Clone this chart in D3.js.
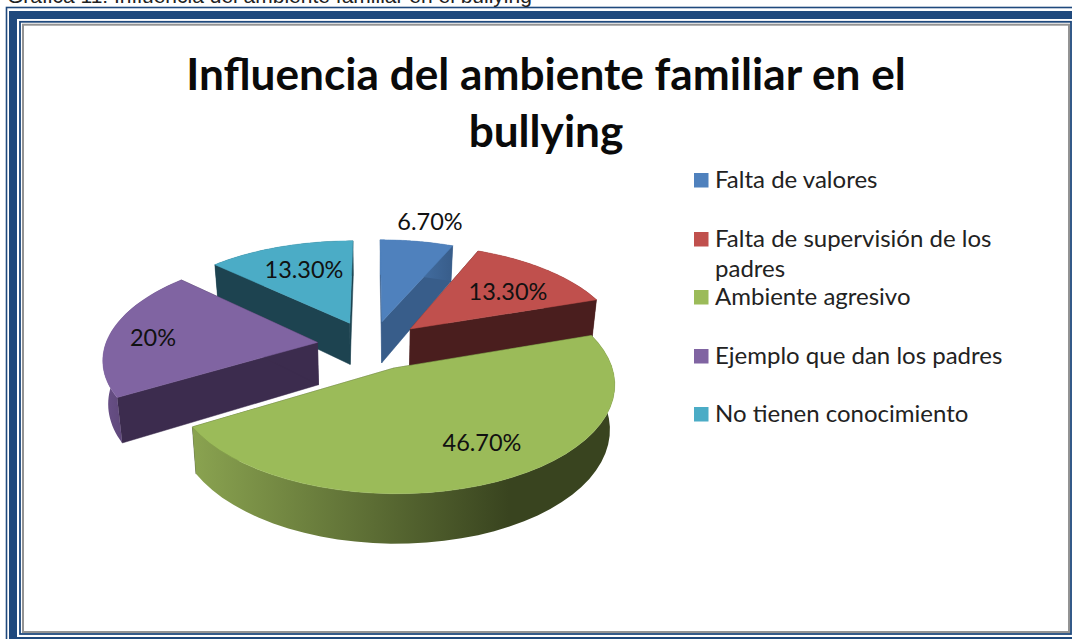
<!DOCTYPE html>
<html><head><meta charset="utf-8">
<script src="https://cdn.jsdelivr.net/npm/d3@7"></script>
<style>html,body{margin:0;padding:0;background:#fff;overflow:hidden}svg{display:block}</style>
</head><body><svg id="c" width="1072" height="639"></svg>
<script>
const categories=["Falta de valores","Falta de supervisión de los padres","Ambiente agresivo","Ejemplo que dan los padres","No tienen conocimiento"];
const values=[6.7,13.3,46.7,20,13.3];
const labels=["6.70%","13.30%","46.70%","20%","13.30%"];
const topColors=["#4f81bd","#c0504d","#9bbb59","#8064a2","#4bacc6"];
const wallColors=["#385d8a","#4a1e1e","#3c4a22","#3c2c4e","#1d4350"];
const sideLight=["#4f81bd","#4a1e1e","#8aa350","#6a5189","#1d4350"];
const sideDark=["#385d8a","#4a1e1e","#39441f","#3c2c4e","#1d4350"];
const labelAt=[[430,222],[508,292],[482,443],[153,338],[304,270]];
const legendY=[180,239,297,356,414];

const svg=d3.select("#c");
const font="Lato,'Open Sans',sans-serif";
const frame=svg.append("g").attr("fill","none");
const rect=(x,y,x2,y2,c,w)=>frame.append("rect").attr("x",x).attr("y",y).attr("width",x2-x).attr("height",y2-y).attr("stroke",c).attr("stroke-width",w);
rect(6.5,7.5,1090,660,"#1f497d",1.6);
rect(13,15,1082,641,"#1f497d",8);
rect(20,21.8,1071,634,"#1f497d",1.8);
rect(23,24.7,1069,632,"#939393",2);

svg.append("text").attr("x",7).attr("y",3).attr("font-family","'Liberation Sans',Arial,sans-serif").attr("font-size",21).attr("fill","#222").text("Gráfica 11:  Influencia del ambiente familiar en el bullying");

const title=svg.append("g").attr("font-family",font).attr("font-weight",700).attr("font-size",44.2).attr("fill","#0a0a0a").attr("text-anchor","middle");
title.append("text").attr("x",546).attr("y",90).text("Influencia del ambiente familiar en el");
title.append("text").attr("x",546).attr("y",147).text("bullying");

// 3D projection
const p=0.145,explX=0.255,explY=0.236,D=42.5,shrink=0.02;
const xS=d3.scaleLinear().domain([-1,1]).range([371-212,371+212]);
const yS=d3.scaleLinear().domain([-1,1]).range([345-104,345+104]);
const proj=(u,v,z)=>{const s=1+p*v;return [xS(u*s*(1-shrink*z)),yS(v*s)+z*D*s];};
const arcs=d3.pie().sort(null).value(d=>d)(values);
const defs=svg.append("defs");
const line=d3.line();
const order=[0,4,1,3,2];
order.forEach(i=>{
  const a=arcs[i],m=(a.startAngle+a.endAngle)/2;
  const ex=explX*Math.sin(m),ey=-explY*Math.cos(m);
  const pt=(t,z)=>proj(ex+Math.sin(t),ey-Math.cos(t),z);
  const apex=z=>proj(ex,ey,z);
  const ts=d3.range(0,41).map(k=>a.startAngle+(a.endAngle-a.startAngle)*k/40);
  const topArc=ts.map(t=>pt(t,0)),botArc=ts.map(t=>pt(t,1));
  const g=svg.append("g");
  const wall=(A,B)=>g.append("path").attr("d",line([A(0),B(0),B(1),A(1)])+"Z").attr("fill",wallColors[i]).attr("stroke",wallColors[i]).attr("stroke-width",.5);
  wall(apex,z=>pt(a.startAngle,z));
  wall(apex,z=>pt(a.endAngle,z));
  const xs=topArc.map(d=>d[0]);
  const gid="side"+i;
  const gr=defs.append("linearGradient").attr("id",gid).attr("gradientUnits","userSpaceOnUse")
    .attr("x1",d3.min(xs)).attr("x2",d3.max(xs)).attr("y1",0).attr("y2",0);
  gr.append("stop").attr("offset",0).attr("stop-color",sideLight[i]);
  gr.append("stop").attr("offset",i===2?.75:1).attr("stop-color",sideDark[i]);
  g.append("path").attr("d",line(topArc.concat(botArc.slice().reverse()))+"Z").attr("fill",`url(#${gid})`);
  g.append("path").attr("d",line([apex(0),...topArc])+"Z").attr("fill",topColors[i]).attr("stroke",topColors[i]).attr("stroke-width",.5);
});
svg.append("g").attr("font-family",font).attr("font-size",23.5).attr("fill","#111").attr("text-anchor","middle")
 .selectAll("text").data(labels).join("text").attr("x",(d,i)=>labelAt[i][0]).attr("y",(d,i)=>labelAt[i][1]+8).text(d=>d);

const lg=svg.append("g").attr("font-family",font).attr("font-size",24).attr("fill","#222");
categories.forEach((c,i)=>{
  lg.append("rect").attr("x",694).attr("y",legendY[i]-7).attr("width",14.5).attr("height",14.5).attr("fill",topColors[i]);
  if(i===1){
    lg.append("text").attr("x",715).attr("y",legendY[i]+8).text("Falta de supervisión de los");
    lg.append("text").attr("x",715).attr("y",legendY[i]+38).text("padres");
  } else lg.append("text").attr("x",715).attr("y",legendY[i]+8).text(c);
});
</script></body></html>
